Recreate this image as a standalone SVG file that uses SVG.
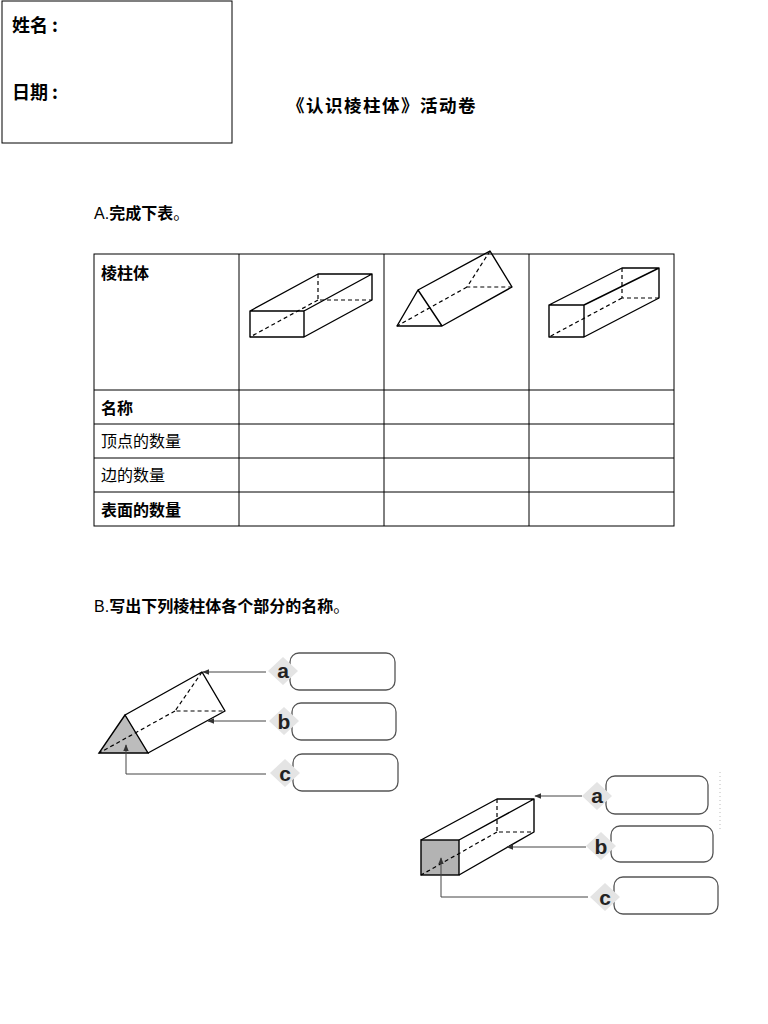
<svg xmlns="http://www.w3.org/2000/svg" width="768" height="1024" viewBox="0 0 768 1024">
<defs>
<style>
text{font-family:"Noto Sans CJK SC","Liberation Sans",sans-serif;fill:#000}
.b{font-weight:bold}
.t{font-size:18px}
.s{fill:none;stroke:#000;stroke-width:1.4;stroke-linejoin:round}
.d{fill:none;stroke:#000;stroke-width:1.2;stroke-dasharray:4,3}
.grid{fill:none;stroke:#000;stroke-width:1}
.c{fill:none;stroke:#444;stroke-width:1}
.box{fill:#fff;stroke:#555;stroke-width:1.3}
.bad{fill:#e4e4e4}
.lt{font-family:"Liberation Sans",sans-serif;font-weight:bold;font-size:21px;fill:#222}
</style>
<marker id="ar" viewBox="0 0 10 10" refX="9" refY="5" markerWidth="7" markerHeight="7" orient="auto"><path d="M0,1L10,5L0,9z" fill="#333"/></marker>
</defs>
<rect width="768" height="1024" fill="#fff"/>
<g id="header">
<rect x="2" y="1" width="230" height="142" class="grid"/>
<text x="12" y="32" class="t b">姓名 :</text>
<text x="12" y="99" class="t b">日期 :</text>
<text x="287" y="112" font-size="17.5" letter-spacing="1.5" class="b">《认识棱柱体》活动卷</text>
</g>
<text x="94" y="219" font-size="16"><tspan font-family="Liberation Sans">A.</tspan><tspan class="b">完成下表</tspan>。</text>
<g id="table">
<rect x="94" y="254" width="580" height="272" class="grid"/>
<path class="grid" d="M239,254V526M384,254V526M529,254V526M94,390H674M94,424H674M94,458H674M94,492H674"/>
<text x="101" y="279" font-size="16" class="b">棱柱体</text>
<text x="101" y="414" font-size="16" class="b">名称</text>
<text x="101" y="447" font-size="16">顶点的数量</text>
<text x="101" y="481" font-size="16">边的数量</text>
<text x="101" y="516" font-size="16" class="b">表面的数量</text>
</g>
<g id="cuboid1">
<path class="s" d="M250,311H304V337H250Z M250,311L318,274H372L304,311 M372,274V300L304,337"/>
<path class="d" d="M318,274V300H372 M318,300L250,337"/>
</g>
<g id="prism1">
<path class="s" d="M418,290L397,326H442Z M418,290L490,251L512,287L442,326"/>
<path class="d" d="M490,251L467,287H512 M467,287L397,326"/>
</g>
<g id="cuboid2">
<path class="s" d="M549,305H584V337H549Z M549,305L622,268H659L584,305 M659,268V298L584,337"/>
<path class="d" d="M622,268V298H659 M622,298L549,337"/>
</g>
<text x="94" y="612" font-size="16"><tspan font-family="Liberation Sans">B.</tspan><tspan class="b">写出下列棱柱体各个部分的名称</tspan>。</text>
<g id="prism2">
<path d="M125,715L99,753H148Z" fill="#bcbcbc" stroke="#000" stroke-width="1.4"/>
<path class="s" d="M125,715L202,672L225,711L148,753"/>
<path class="d" d="M202,672L175,711H225 M175,711L99,753"/>
</g>
<g id="cuboid3">
<rect x="421" y="840" width="38" height="35" fill="#b3b3b3" stroke="#000" stroke-width="1.4"/>
<path class="s" d="M421,840L497,799H534L459,840 M534,799V832L459,875"/>
<path class="d" d="M497,799V832H534 M497,832L421,875"/>
</g>
<g id="connectors">
<path class="c" marker-end="url(#ar)" d="M266,672H203"/>
<path class="c" marker-end="url(#ar)" d="M266,721H208"/>
<path class="c" marker-end="url(#ar)" d="M266,774H126V745"/>
<path class="c" marker-end="url(#ar)" d="M582,796H535"/>
<path class="c" marker-end="url(#ar)" d="M586,847H507"/>
<path class="c" marker-end="url(#ar)" d="M588,897H441V858"/>
</g>
<g id="labels1">
<rect x="290" y="653" width="105" height="37" rx="9" class="box"/>
<rect x="292" y="703" width="104" height="37" rx="9" class="box"/>
<rect x="293" y="754" width="105" height="37" rx="9" class="box"/>
<path class="bad" d="M283,657L298,671L283,685L268,671Z M284,707L299,721L284,735L269,721Z M285,759L300,773L285,787L270,773Z"/>
<text x="283" y="678" class="lt" text-anchor="middle">a</text>
<text x="284" y="729" class="lt" text-anchor="middle">b</text>
<text x="285" y="781" class="lt" text-anchor="middle">c</text>
</g>
<g id="labels2">
<rect x="606" y="776" width="102" height="38" rx="9" class="box"/>
<rect x="611" y="826" width="102" height="36" rx="9" class="box"/>
<rect x="614" y="877" width="104" height="37" rx="9" class="box"/>
<path class="bad" d="M597,782L612,796L597,810L582,796Z M601,832L616,846L601,860L586,846Z M605,883L620,897L605,911L590,897Z"/>
<text x="597" y="803" class="lt" text-anchor="middle">a</text>
<text x="601" y="854" class="lt" text-anchor="middle">b</text>
<text x="605" y="905" class="lt" text-anchor="middle">c</text>
<path d="M720,772V830" stroke="#bbb" stroke-width="1" stroke-dasharray="1,3"/>
</g>
</svg>
